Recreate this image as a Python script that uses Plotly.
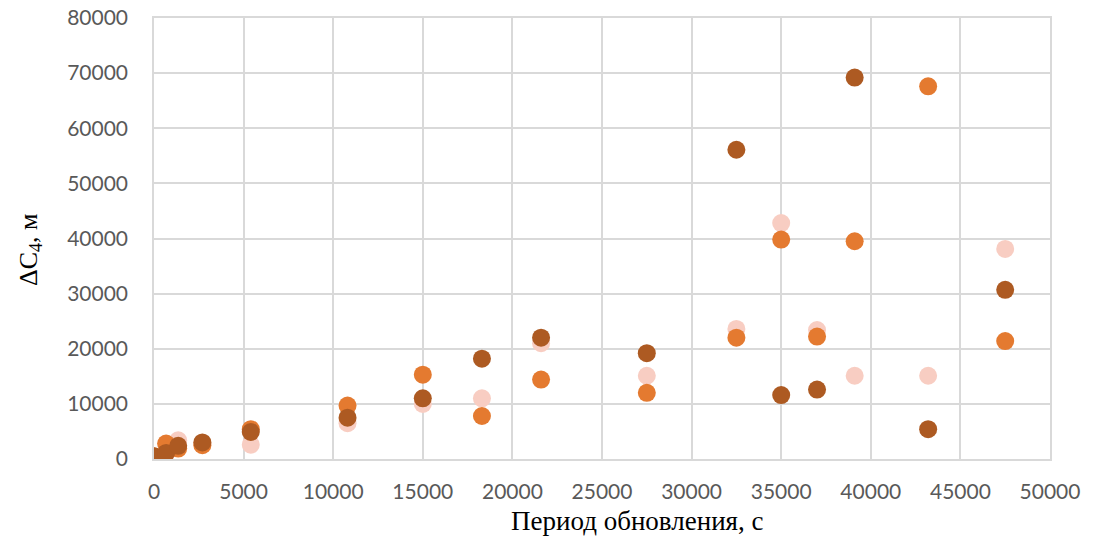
import plotly.graph_objects as go

# Update periods, seconds
period = [0, 675, 1350, 2700, 5400, 10800, 15000, 18300, 21600,
          27500, 32500, 35000, 37000, 39100, 43200, 47500]

# ΔC4 values, metres, for three series
series_light = [300, 1000, 3400, 2700, 2600, 6500, 10000, 11000, 21000,
                15100, 23600, 42800, 23400, 15100, 15100, 38100]
series_mid = [500, 2800, 1900, 2500, 5400, 9700, 15300, 7800, 14400,
              12000, 22000, 39800, 22200, 39500, 67600, 21400]
series_dark = [500, 1100, 2400, 3000, 4900, 7500, 11000, 18200, 22000,
               19200, 56100, 11600, 12600, 69200, 5400, 30700]

x_ticks = list(range(0, 50001, 5000))
y_ticks = list(range(0, 80001, 10000))

colors = ["#F8CDC2", "#E47A30", "#AD5A22"]

fig = go.Figure()
for ys, c in zip([series_light, series_mid, series_dark], colors):
    fig.add_trace(go.Scatter(
        x=period, y=ys, mode="markers",
        marker=dict(size=18, color=c, line=dict(width=0)),
        showlegend=False,
    ))

grid = "#D9D9D9"
tick_font = dict(family="Lato, Open Sans, sans-serif", size=21, color="#595959")
title_font = dict(family="Liberation Serif, Times New Roman, serif", size=26, color="#000000")

fig.update_layout(
    width=1104, height=538,
    margin=dict(l=154, r=54, t=18, b=79),
    paper_bgcolor="white", plot_bgcolor="white",
    xaxis=dict(
        range=[0, 50000], tickvals=x_ticks, ticktext=[str(v) for v in x_ticks],
        showgrid=True, gridcolor=grid, gridwidth=1.5,
        showline=True, linecolor=grid, linewidth=1.5, mirror=True,
        zeroline=False, tickfont=tick_font, ticklabelstandoff=13,
        automargin=False,
    ),
    yaxis=dict(
        range=[0, 80000], tickvals=y_ticks, ticktext=[str(v) for v in y_ticks],
        showgrid=True, gridcolor=grid, gridwidth=1.5,
        showline=True, linecolor=grid, linewidth=1.5, mirror=True,
        zeroline=False, tickfont=tick_font, ticklabelstandoff=20,
        automargin=False,
    ),
    annotations=[
        dict(text="Период обновления, с", xref="paper", yref="paper",
             x=0.5396, y=-0.1406, xanchor="center", yanchor="middle",
             showarrow=False, font=dict(title_font, size=27)),
        dict(text="ΔC<sub>4</sub>, м", xref="paper", yref="paper",
             x=-0.1384, y=0.476, xanchor="center", yanchor="middle",
             textangle=-90, showarrow=False, font=title_font),
    ],
)

fig.write_html("out.html")
